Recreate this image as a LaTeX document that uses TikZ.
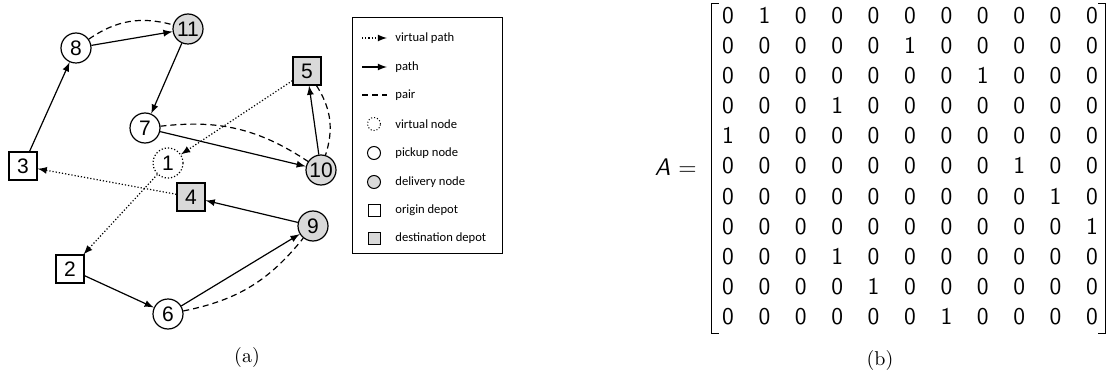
\documentclass[tikz,border=0pt]{standalone}
\usepackage{fontspec}
\usepackage{tikz}
\usetikzlibrary{arrows}
\usetikzlibrary{matrix}
\newfontfamily\nodefont{Liberation Sans}
\newfontfamily\legendfont{Carlito}

\tikzset{
    pickup/.style={circle, draw, line width=0.6pt, minimum size=15pt, inner sep=0pt,
        font=\nodefont\fontsize{10.5}{12}\selectfont},
    delivery/.style={pickup, fill=gray!30},
    virtual/.style={pickup, densely dotted},
    origin/.style={rectangle, draw, line width=0.6pt, minimum size=14pt, inner sep=0pt,
        font=\nodefont\fontsize{10.5}{12}\selectfont},
    destination/.style={origin, fill=gray!30},
    route/.style={-latex, line width=0.6pt},
    vroute/.style={-latex, line width=0.6pt, densely dotted},
    pair/.style={line width=0.6pt, dash pattern=on 3pt off 2pt},
    lsym/.style={draw, line width=0.5pt, inner sep=0pt},
    ltext/.style={anchor=west, inner sep=0pt, font=\legendfont\fontsize{6.3}{8}\selectfont},
    bracket/.style={line width=0.5pt},
}

\begin{document}
\begin{tikzpicture}[x=0.5pt, y=-0.5pt]
    \useasboundingbox (0,0) rectangle (1111,379);

    % graph (a)
    \node[virtual] (n1) at (168,163) {1};
    \node[origin] (n2) at (70,269) {2};
    \node[origin] (n3) at (23,166) {3};
    \node[destination] (n4) at (191,197) {4};
    \node[destination] (n5) at (307,71) {5};
    \node[pickup] (n6) at (168,314) {6};
    \node[pickup] (n7) at (145,128) {7};
    \node[pickup] (n8) at (76,48) {8};
    \node[delivery] (n9) at (313,226) {9};
    \node[delivery] (n10) at (321,170) {10};
    \node[delivery] (n11) at (188,29) {11};

    \draw[route] (n3) -- (n8);
    \draw[route] (n8) -- (n11);
    \draw[pair] (n8) to[bend left=25] (n11);
    \draw[route] (n11) -- (n7);
    \draw[route] (n7) -- (n10);
    \draw[pair] (n7) to[bend left=20] (n10);
    \draw[route] (n10) -- (n5);
    \draw[pair] (n5) to[bend left=25] (n10);
    \draw[vroute] (n5) -- (n1);
    \draw[vroute] (n1) -- (n2);
    \draw[route] (n2) -- (n6);
    \draw[route] (n6) -- (n9);
    \draw[pair] (n6) to[bend right=20] (n9);
    \draw[route] (n9) -- (n4);
    \draw[vroute] (n4) -- (n3);

    % legend
    \node[draw, line width=0.4pt, minimum width=75pt, minimum height=118pt, inner sep=0pt] (legend) at (427,135) {};
    \coordinate (lvpa) at (362,38);
    \coordinate (lvpb) at (387,38);
    \draw[vroute] (lvpa) -- (lvpb);
    \node[ltext] (tvp) at (395,38) {virtual path};
    \coordinate (lpa) at (362,67);
    \coordinate (lpb) at (387,67);
    \draw[route] (lpa) -- (lpb);
    \node[ltext] (tp) at (395,67) {path};
    \coordinate (lpra) at (362,95);
    \coordinate (lprb) at (387,95);
    \draw[pair] (lpra) -- (lprb);
    \node[ltext] (tpr) at (395,95) {pair};
    \node[lsym, circle, densely dotted, minimum size=6.5pt] (svn) at (374,124) {};
    \node[ltext] (tvn) at (395,124) {virtual node};
    \node[lsym, circle, minimum size=6.5pt] (spn) at (374,153) {};
    \node[ltext] (tpn) at (395,153) {pickup node};
    \node[lsym, circle, fill=gray!30, minimum size=6.5pt] (sdn) at (374,182) {};
    \node[ltext] (tdn) at (395,182) {delivery node};
    \node[lsym, minimum size=6pt] (sod) at (374,210) {};
    \node[ltext] (tod) at (395,210) {origin depot};
    \node[lsym, fill=gray!30, minimum size=6pt] (sdd) at (374,238) {};
    \node[ltext] (tdd) at (395,238) {destination depot};

    \node (capa) at (247,357) {(a)};

    % adjacency matrix (b)
    \node[anchor=east, inner sep=0pt, font=\sffamily\fontsize{12}{14}\selectfont] (lhs) at (697,167) {\textit{A} =};
    \matrix (adj) [matrix of nodes, inner sep=0pt, column sep=10.2pt, row sep=0.9pt,
        nodes={font=\sffamily\fontsize{12}{14}\selectfont, minimum width=8pt, minimum height=14pt, inner sep=0pt}] at (910,166) {
        0 & 1 & 0 & 0 & 0 & 0 & 0 & 0 & 0 & 0 & 0 \\
        0 & 0 & 0 & 0 & 0 & 1 & 0 & 0 & 0 & 0 & 0 \\
        0 & 0 & 0 & 0 & 0 & 0 & 0 & 1 & 0 & 0 & 0 \\
        0 & 0 & 0 & 1 & 0 & 0 & 0 & 0 & 0 & 0 & 0 \\
        1 & 0 & 0 & 0 & 0 & 0 & 0 & 0 & 0 & 0 & 0 \\
        0 & 0 & 0 & 0 & 0 & 0 & 0 & 0 & 1 & 0 & 0 \\
        0 & 0 & 0 & 0 & 0 & 0 & 0 & 0 & 0 & 1 & 0 \\
        0 & 0 & 0 & 0 & 0 & 0 & 0 & 0 & 0 & 0 & 1 \\
        0 & 0 & 0 & 1 & 0 & 0 & 0 & 0 & 0 & 0 & 0 \\
        0 & 0 & 0 & 0 & 1 & 0 & 0 & 0 & 0 & 0 & 0 \\
        0 & 0 & 0 & 0 & 0 & 0 & 1 & 0 & 0 & 0 & 0 \\
    };
    \draw[bracket] ([xshift=-0.5pt,yshift=-1pt]adj.north west) -- ++(-3.5pt,0pt)
        -- ([xshift=-4pt,yshift=-1.5pt]adj.south west) -- ++(3.5pt,0pt);
    \draw[bracket] ([xshift=-1pt,yshift=-1pt]adj.north east) -- ++(3.5pt,0pt)
        -- ([xshift=2.5pt,yshift=-1.5pt]adj.south east) -- ++(-3.5pt,0pt);

    \node (capb) at (880,360) {(b)};
\end{tikzpicture}
\end{document}
